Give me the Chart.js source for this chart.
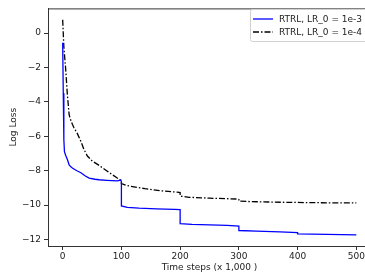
<!DOCTYPE html>
<html>
<head>
<meta charset="utf-8">
<script src="https://cdn.jsdelivr.net/npm/chart.js@4.4.0/dist/chart.umd.min.js"></script>
<style>
    html, body {
        margin: 0;
        padding: 0;
        background: #fff;
        overflow: hidden;
    }

    #wrap {
        position: relative;
        width: 375px;
        height: 280px;
    }
</style>
</head>
<body>
<div id="wrap">
    <canvas id="myChart"></canvas>
</div>

<script>
    // time steps (x 1,000) and log loss
    const stepsA = [0, 1, 2, 3, 5, 8, 11, 14, 17, 25, 31, 38, 45, 55, 62, 75, 93, 99, 100, 100, 110, 130, 160, 190, 200, 200, 220, 250, 280, 300, 300, 330, 370, 400, 400, 450, 500];
    const lossA = [-0.57, -3.5, -6.2, -6.9, -7.1, -7.35, -7.67, -7.78, -7.86, -8.02, -8.12, -8.3, -8.43, -8.5, -8.53, -8.56, -8.59, -8.55, -8.65, -10.05, -10.13, -10.18, -10.22, -10.25, -10.27, -11.08, -11.12, -11.15, -11.18, -11.22, -11.48, -11.52, -11.56, -11.6, -11.67, -11.7, -11.73];

    const stepsB = [0, 2, 5, 8, 11, 13, 16.5, 19, 25, 31, 36, 42, 50.5, 60, 73, 85, 93, 100, 100, 108, 116, 140, 170, 195, 200, 200, 215, 250, 297, 300, 300, 320, 360, 400, 450, 500];
    const lossB = [0.77, -0.8, -2.05, -3.6, -4.75, -5.0, -5.3, -5.49, -5.85, -6.3, -6.75, -7.15, -7.45, -7.65, -7.96, -8.25, -8.43, -8.58, -8.75, -8.85, -8.91, -9.05, -9.18, -9.25, -9.28, -9.48, -9.55, -9.6, -9.65, -9.68, -9.77, -9.8, -9.83, -9.85, -9.87, -9.87];

    const seriesNames = ['RTRL, LR_0 = 1e-3', 'RTRL, LR_0 = 1e-4'];
    const xTicks = [0, 100, 200, 300, 400, 500];
    const yTicks = [0, -2, -4, -6, -8, -10, -12];

    const FONT = { family: 'DejaVu Sans', size: 9 };
    const INK = '#333';

    function toPoints(xs, ys) {
        return xs.map(function (x, i) { return { x: x, y: ys[i] }; });
    }

    function minusSign(v) {
        return v < 0 ? '\u2212' + Math.abs(v) : String(v);
    }

    // top spine + legend box inside the plot
    const frameAndLegend = {
        id: 'frameAndLegend',
        afterDraw: function (chart) {
            const ctx = chart.ctx;
            const a = chart.chartArea;
            ctx.save();
            ctx.strokeStyle = INK;
            ctx.lineWidth = 1;
            ctx.beginPath();
            ctx.moveTo(a.left, a.top + 0.5);
            ctx.lineTo(a.right, a.top + 0.5);
            ctx.moveTo(a.right - 0.5, a.top);
            ctx.lineTo(a.right - 0.5, a.bottom);
            ctx.stroke();

            // legend
            const bx = 250.5, by = 9.5, bw = 122, bh = 32;
            ctx.fillStyle = 'rgba(255,255,255,0.8)';
            ctx.strokeStyle = '#d0d0d0';
            ctx.beginPath();
            ctx.roundRect(bx, by, bw, bh, 2);
            ctx.fill();
            ctx.stroke();

            const rows = [19, 32];
            chart.data.datasets.forEach(function (ds, i) {
                ctx.strokeStyle = ds.borderColor;
                ctx.lineWidth = ds.borderWidth;
                ctx.setLineDash(ds.borderDash || []);
                ctx.beginPath();
                ctx.moveTo(253, rows[i]);
                ctx.lineTo(273, rows[i]);
                ctx.stroke();
                ctx.setLineDash([]);
                ctx.fillStyle = '#222';
                ctx.font = FONT.size + 'px ' + FONT.family;
                ctx.textBaseline = 'middle';
                ctx.fillText(ds.label, 279, rows[i] + 0.5);
            });
            ctx.restore();
        }
    };

    const data = {
        datasets: [{
            label: seriesNames[0],
            data: toPoints(stepsA, lossA),
            borderColor: '#0000ff',
            borderWidth: 1.3,
            pointRadius: 0,
            tension: 0
        }, {
            label: seriesNames[1],
            data: toPoints(stepsB, lossB),
            borderColor: '#000000',
            borderWidth: 1.3,
            borderDash: [6, 2, 1.5, 2],
            pointRadius: 0,
            tension: 0
        }]
    };

    const config = {
        type: 'line',
        data: data,
        options: {
            responsive: false,
            animation: false,
            layout: { padding: { left: 0, top: 7, right: 4, bottom: 0 } },
            plugins: {
                legend: { display: false },
                tooltip: { enabled: false }
            },
            scales: {
                x: {
                    type: 'linear',
                    min: -25,
                    max: 525,
                    afterBuildTicks: function (s) { s.ticks = xTicks.map(function (v) { return { value: v }; }); },
                    afterFit: function (s) { s.height = 34; },
                    grid: { drawOnChartArea: false, drawTicks: true, tickLength: 4, color: INK },
                    border: { display: true, color: INK, width: 1 },
                    ticks: { font: FONT, color: '#222', padding: 1, maxRotation: 0, autoSkip: false },
                    title: { display: true, text: 'Time steps (x 1,000 )', font: FONT, color: '#222', padding: { top: 0, bottom: 6.5 } }
                },
                y: {
                    type: 'linear',
                    min: -12.38,
                    max: 1.43,
                    afterBuildTicks: function (s) { s.ticks = yTicks.map(function (v) { return { value: v }; }); },
                    afterFit: function (s) { s.width = 48; },
                    grid: { drawOnChartArea: false, drawTicks: true, tickLength: 4, color: INK },
                    border: { display: true, color: INK, width: 1 },
                    ticks: { font: FONT, color: '#222', padding: 3, autoSkip: false, callback: minusSign },
                    title: { display: true, text: 'Log Loss', font: FONT, color: '#222', padding: { top: 8.5, bottom: 0 } }
                }
            }
        },
        plugins: [frameAndLegend]
    };

    const canvas = document.getElementById('myChart');
    canvas.width = 375;
    canvas.height = 280;
    const myChart = new Chart(canvas, config);
</script>
</body>
</html>
